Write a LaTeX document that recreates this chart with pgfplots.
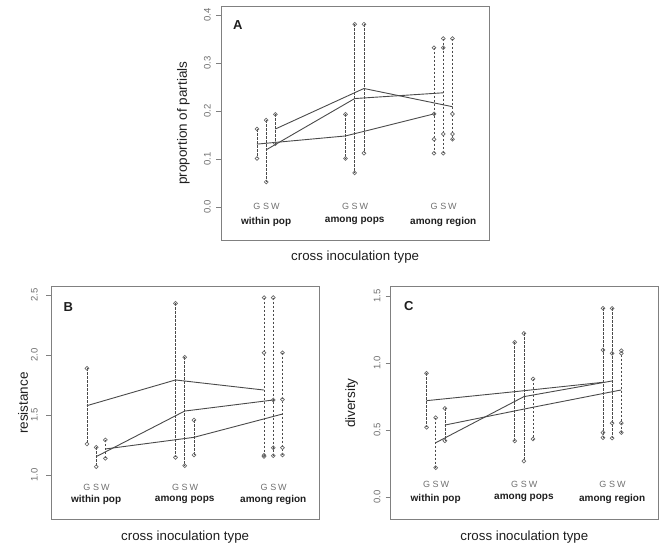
\documentclass[border=0pt]{standalone}
\usepackage{pgfplots}
\pgfplotsset{compat=1.18}
\usepackage{fontspec}
\setmainfont{Liberation Sans}
\definecolor{boxc}{HTML}{808080}
\definecolor{tickc}{HTML}{6E6E6E}
\definecolor{linec}{HTML}{4A4A4A}
\definecolor{circc}{HTML}{6A6A6A}
\definecolor{txtc}{HTML}{1E1E1E}
\definecolor{gswc}{HTML}{707070}

\pgfplotsset{
  rstyle/.style={
    scale only axis, clip=false, xmin=0.49, xmax=3.52, xtick=\empty,
    every axis x label/.style={at={(axis description cs:0.5,-0.075)}, anchor=center, font=\fontsize{13.3}{15}\selectfont, text=txtc},
    every axis y label/.style={at={(axis description cs:-0.14,0.5)}, anchor=center, rotate=90, font=\fontsize{13.5}{15}\selectfont, text=txtc},
    axis line style={boxc, line width=1pt},
    ytick pos=left, tick align=outside, major tick length=5pt,
    tick style={boxc, line width=0.8pt},
    yticklabel style={font=\fontsize{9.5}{10}\selectfont, text=tickc, rotate=90, anchor=south, inner sep=5pt},
    /pgf/number format/assume math mode=true,
    /pgf/number format/fixed, /pgf/number format/fixed zerofill, /pgf/number format/precision=1,
    xlabel={cross inoculation type},
  },
  vst/.style={linec, line width=0.7pt, dash pattern=on 2.5pt off 1.5pt, mark=o, mark size=1.9pt, mark options={solid, circc, line width=0.7pt}},
  mst/.style={linec, line width=0.9pt, mark=none, solid},
}
\tikzset{
  gswst/.style={anchor=base, font=\fontsize{9}{10}\selectfont, text=gswc, inner sep=0pt},
  catst/.style={anchor=base, font=\fontsize{10}{12}\selectfont\bfseries, text=txtc, inner sep=0pt},
  letst/.style={anchor=center, font=\fontsize{13}{15}\selectfont\bfseries, text=txtc},
}

\newcommand{\gsw}[1]{%
  \node[gswst] at (axis cs:0.896,#1) {G};
  \node[gswst] at (axis cs:1,#1) {S};
  \node[gswst] at (axis cs:1.104,#1) {W};
  \node[gswst] at (axis cs:1.896,#1) {G};
  \node[gswst] at (axis cs:2,#1) {S};
  \node[gswst] at (axis cs:2.104,#1) {W};
  \node[gswst] at (axis cs:2.896,#1) {G};
  \node[gswst] at (axis cs:3,#1) {S};
  \node[gswst] at (axis cs:3.104,#1) {W};
}
\newcommand{\cats}[3]{%
  \node[catst] at (axis cs:1,#1) {within pop};
  \node[catst] at (axis cs:2,#2) {among pops};
  \node[catst] at (axis cs:3,#3) {among region};
}

\begin{document}
\begin{tikzpicture}
\useasboundingbox (0,0) rectangle (664pt,-550pt);

% ---------------- Panel A ----------------
\begin{axis}[rstyle, at={(221pt,-6pt)}, anchor=north west,
  width=268.3pt, height=234pt,
  ymin=-0.069, ymax=0.419, ytick={0,0.1,0.2,0.3,0.4},
  ylabel={proportion of partials}]
\addplot[vst] coordinates {(0.896,0.1625) (0.896,0.101)};
\addplot[vst] coordinates {(1,0.181) (1,0.052)};
\addplot[vst] coordinates {(1.104,0.193) (1.104,0.132)};
\addplot[vst] coordinates {(1.896,0.193) (1.896,0.101)};
\addplot[vst] coordinates {(2,0.381) (2,0.071)};
\addplot[vst] coordinates {(2.104,0.381) (2.104,0.112)};
\addplot[vst] coordinates {(2.896,0.332) (2.896,0.194) (2.896,0.141) (2.896,0.112)};
\addplot[vst] coordinates {(3,0.351) (3,0.332) (3,0.152) (3,0.112)};
\addplot[vst] coordinates {(3.104,0.351) (3.104,0.194) (3.104,0.152) (3.104,0.141)};
\addplot[mst] coordinates {(0.896,0.131) (1.896,0.148) (2.896,0.194)};
\addplot[mst] coordinates {(1,0.119) (2,0.226) (3,0.238)};
\addplot[mst] coordinates {(1.104,0.1625) (2.104,0.247) (3.104,0.209)};
\gsw{-0.0048}
\cats{-0.036}{-0.032}{-0.036}
\node[letst] at (axis description cs:0.063,0.919) {A};
\end{axis}

% ---------------- Panel B ----------------
\begin{axis}[rstyle, at={(51pt,-286.7pt)}, anchor=north west,
  width=268.3pt, height=232.6pt,
  ymin=0.631, ymax=2.569, ytick={1,1.5,2,2.5},
  yticklabel style={inner sep=8pt},
  every axis y label/.append style={at={(axis description cs:-0.104,0.5)}},
  ylabel={resistance}]
\addplot[vst] coordinates {(0.896,1.889) (0.896,1.258)};
\addplot[vst] coordinates {(1,1.231) (1,1.069)};
\addplot[vst] coordinates {(1.104,1.292) (1.104,1.139)};
\addplot[vst] coordinates {(1.896,2.43) (1.896,1.147)};
\addplot[vst] coordinates {(2,1.981) (2,1.078)};
\addplot[vst] coordinates {(2.104,1.458) (2.104,1.167)};
\addplot[vst] coordinates {(2.896,2.478) (2.896,2.019) (2.896,1.165) (2.896,1.155)};
\addplot[vst] coordinates {(3,2.478) (3,1.625) (3,1.228) (3,1.161)};
\addplot[vst] coordinates {(3.104,2.019) (3.104,1.63) (3.104,1.228) (3.104,1.167)};
\addplot[mst] coordinates {(0.896,1.578) (1.896,1.792) (2.896,1.708)};
\addplot[mst] coordinates {(1,1.153) (2,1.533) (3,1.625)};
\addplot[mst] coordinates {(1.104,1.217) (2.104,1.314) (3.104,1.508)};
\gsw{0.875}
\cats{0.769}{0.783}{0.769}
\node[letst] at (axis description cs:0.065,0.914) {B};
\end{axis}

% ---------------- Panel C ----------------
\begin{axis}[rstyle, at={(390.7pt,-286.7pt)}, anchor=north west,
  width=267.3pt, height=232.6pt,
  ymin=-0.166, ymax=1.569, ytick={0,0.5,1,1.5},
  every axis y label/.append style={at={(axis description cs:-0.146,0.5)}},
  ylabel={diversity}]
\addplot[vst] coordinates {(0.896,0.923) (0.896,0.520)};
\addplot[vst] coordinates {(1,0.592) (1,0.219)};
\addplot[vst] coordinates {(1.104,0.662) (1.104,0.42)};
\addplot[vst] coordinates {(1.896,1.154) (1.896,0.418)};
\addplot[vst] coordinates {(2,1.221) (2,0.268)};
\addplot[vst] coordinates {(2.104,0.881) (2.104,0.433)};
\addplot[vst] coordinates {(2.896,1.408) (2.896,1.097) (2.896,0.481) (2.896,0.443)};
\addplot[vst] coordinates {(3,1.408) (3,1.072) (3,0.552) (3,0.440)};
\addplot[vst] coordinates {(3.104,1.092) (3.104,1.072) (3.104,0.552) (3.104,0.481)};
\addplot[mst] coordinates {(0.896,0.719) (1.896,0.786) (2.896,0.856)};
\addplot[mst] coordinates {(1,0.405) (2,0.749) (3,0.866)};
\addplot[mst] coordinates {(1.104,0.537) (2.104,0.670) (3.104,0.799)};
\gsw{0.072}
\cats{-0.030}{-0.015}{-0.030}
\node[letst] at (axis description cs:0.068,0.918) {C};
\end{axis}
\end{tikzpicture}
\end{document}
